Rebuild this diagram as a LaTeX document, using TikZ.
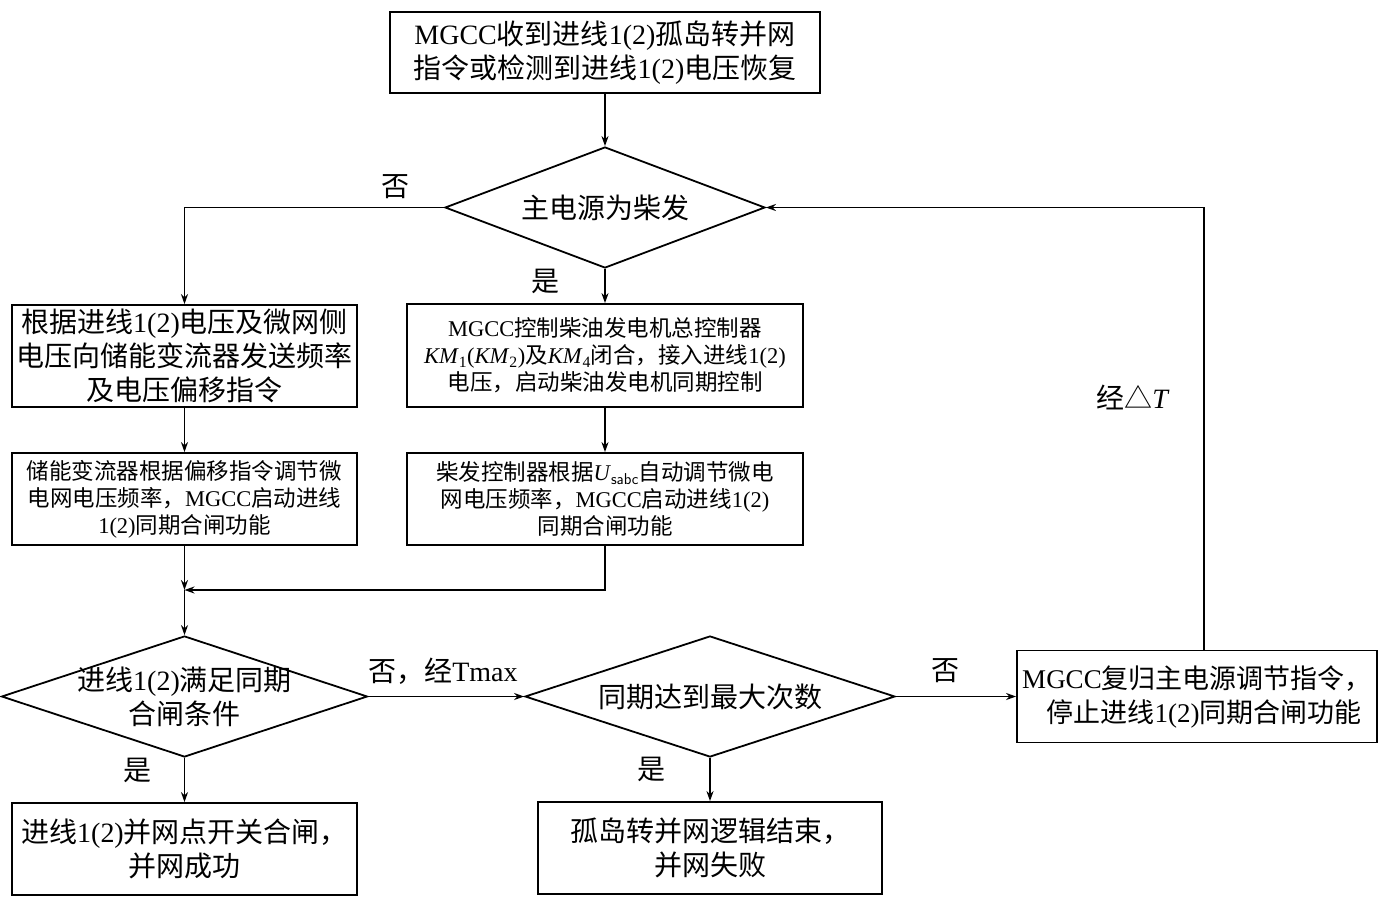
\documentclass[tikz,border=0pt]{standalone}
\usepackage{fontspec}
\setmainfont{Liberation Serif}
\newfontfamily\cjk{Noto Sans CJK SC}
\usetikzlibrary{shapes.geometric,arrows.meta,calc}
\newcommand\en[1]{{\rmfamily #1}}
\tikzset{
  bigtxt/.style={font=\cjk\fontsize{28}{34}\selectfont},
  midtxt/.style={font=\cjk\fontsize{27}{34}\selectfont},
  smalltxt/.style={font=\cjk\fontsize{22.5}{27}\selectfont},
  box/.style={draw, line width=1.8pt, inner sep=0pt, align=center},
  dia/.style={draw, diamond, line width=1.8pt, inner xsep=-40pt, inner ysep=-10pt, align=center},
  conn/.style={line width=1.8pt, -{Stealth[length=10pt,width=7pt]}},
  lbl/.style={bigtxt, inner sep=0pt}
}
\begin{document}
\begin{tikzpicture}[x=1pt,y=-1pt]
\useasboundingbox (0,0) rectangle (1385,908);
\node[box,bigtxt,minimum width=430pt,minimum height=81pt] (top) at (605,52.5)
  {\en{MGCC}收到进线\en{1(2)}孤岛转并网\\指令或检测到进线\en{1(2)}电压恢复};
\node[dia,bigtxt,aspect=2.645,minimum width=320pt,minimum height=121pt] (D1) at (605,207.5) {主电源为柴发};
\node[box,bigtxt,minimum width=345pt,minimum height=102pt] (L1) at (184.5,356)
  {根据进线\en{1(2)}电压及微网侧\\电压向储能变流器发送频率\\及电压偏移指令};
\node[box,smalltxt,minimum width=396pt,minimum height=103pt] (R1) at (605,355.5)
  {\en{MGCC}控制柴油发电机总控制器\\\en{\textit{KM}\textsubscript{1}(\textit{KM}\textsubscript{2})}及\en{\textit{KM}\textsubscript{4}}闭合，接入进线\en{1(2)}\\电压，启动柴油发电机同期控制};
\node[box,smalltxt,minimum width=345pt,minimum height=92pt] (L2) at (184.5,499)
  {储能变流器根据偏移指令调节微\\电网电压频率，\en{MGCC}启动进线\\\en{1(2)}同期合闸功能};
\node[box,smalltxt,minimum width=396pt,minimum height=92pt] (R2) at (605,499)
  {柴发控制器根据\en{\textit{U}\textsubscript{\sffamily sabc}}自动调节微电\\网电压频率，\en{MGCC}启动进线\en{1(2)}\\同期合闸功能};
\coordinate (J) at (184.5,590);
\node[dia,bigtxt,aspect=3.02,minimum width=366pt,minimum height=121pt] (D2) at (184.5,696.5)
  {进线\en{1(2)}满足同期\\合闸条件};
\node[dia,bigtxt,aspect=3.06,minimum width=370pt,minimum height=121pt] (D3) at (710,696.5) {同期达到最大次数};
\node[box,midtxt,minimum width=360pt,minimum height=92pt] (B3) at (1197,696.5)
  {\en{MGCC}复归主电源调节指令，\\\hspace*{14pt}停止进线\en{1(2)}同期合闸功能};
\node[box,bigtxt,minimum width=345pt,minimum height=92pt] (BL) at (184.5,849)
  {进线\en{1(2)}并网点开关合闸，\\并网成功};
\node[box,bigtxt,minimum width=344pt,minimum height=92pt] (BM) at (710,848)
  {孤岛转并网逻辑结束，\\并网失败};
% connectors
\draw[conn] (top.south) -- (D1.north);
\draw[conn] (D1.west) -| (L1.north);
\draw[conn] (D1.south) -- (R1.north);
\draw[conn] (L1.south) -- (L2.north);
\draw[conn] (R1.south) -- (R2.north);
\draw[conn] (L2.south) -- (J);
\draw[conn] (R2.south) |- (J);
\draw[conn] (J) -- (D2.north);
\draw[conn] (D2.east) -- (D3.west);
\draw[conn] (D3.east) -- (B3.west);
\draw[conn] ([xshift=7pt]B3.north) |- (D1.east);
\draw[conn] (D2.south) -- (BL.north);
\draw[conn] (D3.south) -- (BM.north);
% labels
\node[lbl] (n1) at (395,187) {否};
\node[lbl] (y1) at (545,281) {是};
\node[lbl] (n2) at (443,671) {否，经\en{Tmax}};
\node[lbl] (n3) at (945,671) {否};
\node[lbl] (y2) at (137,770) {是};
\node[lbl] (y3) at (651,769) {是};
\node[lbl] (dt) at (1133,397) {经△\en{\textit{T}}};
\end{tikzpicture}
\end{document}
